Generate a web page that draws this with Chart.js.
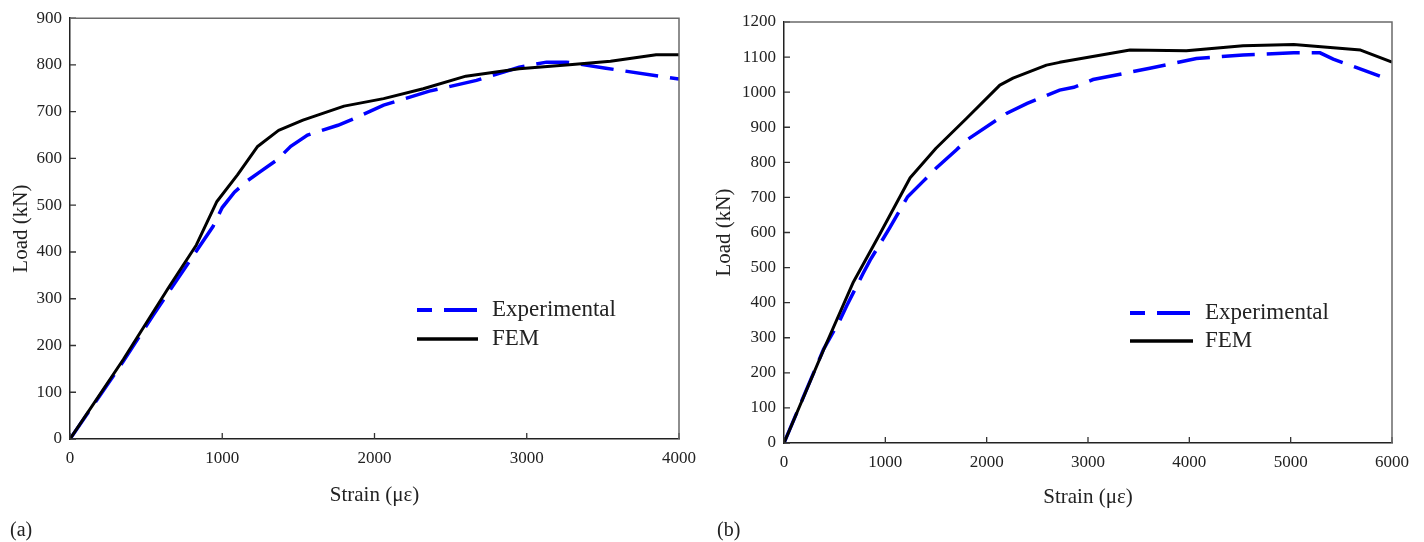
<!DOCTYPE html>
<html><head><meta charset="utf-8">
<script src="https://cdn.jsdelivr.net/npm/chart.js@4/dist/chart.umd.min.js"></script>
<style>
html,body{margin:0;padding:0;background:#fff;}
#wrap{position:relative;width:1424px;height:542px;overflow:hidden;}
.box{position:absolute;top:0;width:712px;height:542px;}
</style></head><body>
<div id="wrap">
<div class="box" style="left:0"><canvas id="ca" width="712" height="542"></canvas></div>
<div class="box" style="left:712px"><canvas id="cb" width="712" height="542"></canvas></div>
</div>
<script>
// ---- (a) data ----
const expA_strain = [0, 350, 547, 745, 940, 1000, 1080, 1160, 1250, 1360, 1450, 1560, 1760, 1850, 2060, 2360, 2670, 2950, 3130, 3260, 3520, 3870, 4000];
const expA_load   = [0, 166, 265, 361, 455, 495, 528, 551, 572, 597, 626, 650, 671, 683, 714, 744, 767, 795, 806, 806, 793, 776, 770];
const femA_strain = [0, 350, 650, 830, 965, 1100, 1230, 1370, 1530, 1800, 2060, 2320, 2600, 2950, 3300, 3550, 3850, 4000];
const femA_load   = [0, 170, 325, 415, 508, 565, 625, 660, 682, 712, 728, 749, 776, 792, 801, 808, 822, 822];
// ---- (b) data ----
const expB_strain = [0, 390, 550, 620, 780, 850, 1040, 1220, 1370, 1500, 1700, 1800, 2200, 2400, 2720, 2860, 3050, 3610, 4070, 4530, 5030, 5290, 5420, 5880];
const expB_load   = [0, 267, 349, 392, 483, 521, 612, 702, 745, 783, 835, 863, 940, 968, 1006, 1014, 1036, 1068, 1096, 1106, 1112, 1112, 1094, 1046];
const femB_strain = [0, 390, 685, 950, 1245, 1500, 1800, 2130, 2260, 2590, 2720, 3415, 3970, 4530, 5030, 5690, 6000];
const femB_load   = [0, 265, 459, 598, 756, 840, 925, 1020, 1040, 1077, 1085, 1120, 1118, 1132, 1136, 1120, 1086];
// ---- axes ----
const xTicksA = [0, 1000, 2000, 3000, 4000];
const yTicksA = [0, 100, 200, 300, 400, 500, 600, 700, 800, 900];
const xTicksB = [0, 1000, 2000, 3000, 4000, 5000, 6000];
const yTicksB = [0, 100, 200, 300, 400, 500, 600, 700, 800, 900, 1000, 1100, 1200];
const seriesNames = ['Experimental', 'FEM'];
const xTitle = 'Strain (\u03bc\u03b5)';
const yTitle = 'Load (kN)';
const panelLabels = ['(a)', '(b)'];

const SERIF = '"Liberation Serif", "Times New Roman", serif';
const pts = (xs, ys) => xs.map((x, i) => ({x: x, y: ys[i]}));

const decoPlugin = {
  id: 'deco',
  afterDatasetsDraw(chart, args, o) {
    const ctx = chart.ctx, a = chart.chartArea;
    const xs = chart.scales.x, ys = chart.scales.y;
    ctx.save();
    ctx.strokeStyle = '#333'; ctx.lineWidth = 1.3;
    ctx.beginPath();
    xs.ticks.forEach(t => { const p = xs.getPixelForValue(t.value); ctx.moveTo(p, a.bottom); ctx.lineTo(p, a.bottom - 6); });
    ys.ticks.forEach(t => { const p = ys.getPixelForValue(t.value); ctx.moveTo(a.left, p); ctx.lineTo(a.left + 6, p); });
    ctx.stroke();
    ctx.strokeStyle = '#6a6a6a'; ctx.lineWidth = 1.5;
    ctx.beginPath();
    ctx.moveTo(a.left, a.top); ctx.lineTo(a.right, a.top); ctx.lineTo(a.right, a.bottom);
    ctx.stroke();
    const L = o.legend;
    chart.data.datasets.forEach((d, i) => {
      const y = L.rows[i];
      ctx.beginPath();
      ctx.strokeStyle = d.borderColor; ctx.lineWidth = d.borderWidth + 0.5;
      ctx.setLineDash(d.borderDash || []);
      ctx.lineDashOffset = d.borderDash ? 18 : 0;
      ctx.moveTo(L.x0, y); ctx.lineTo(L.x1, y); ctx.stroke();
      ctx.setLineDash([]);
      ctx.fillStyle = '#222';
      ctx.font = '23px ' + SERIF;
      ctx.textBaseline = 'middle'; ctx.textAlign = 'left';
      ctx.fillText(d.label, L.tx, y);
    });
    ctx.font = '20px ' + SERIF;
    ctx.fillStyle = '#222';
    ctx.textBaseline = 'middle';
    ctx.fillText(o.panel.text, o.panel.x, o.panel.y);
    ctx.restore();
  }
};

function makeChart(id, cfg) {
  return new Chart(document.getElementById(id), {
    type: 'scatter',
    data: {
      datasets: [
        {label: seriesNames[0], data: pts(cfg.ex, cfg.ey), showLine: true, borderColor: '#0000ff', backgroundColor: '#0000ff',
         borderWidth: 3.5, borderDash: [33, 12], pointRadius: 0, tension: 0, order: 1, borderCapStyle: 'butt'},
        {label: seriesNames[1], data: pts(cfg.fx, cfg.fy), showLine: true, borderColor: '#000000', backgroundColor: '#000000',
         borderWidth: 3, pointRadius: 0, tension: 0, order: 0, borderJoinStyle: 'round'}
      ]
    },
    options: {
      responsive: false, animation: false, devicePixelRatio: 1,
      layout: {padding: {top: cfg.padTop, right: cfg.padRight, left: 0, bottom: 0}},
      plugins: {legend: {display: false}, tooltip: {enabled: false},
        deco: {legend: cfg.legend, panel: cfg.panel}},
      scales: {
        x: {type: 'linear', min: 0, max: cfg.xMax,
          afterBuildTicks: s => { s.ticks = cfg.xt.map(v => ({value: v})); },
          afterFit: s => { s.height = cfg.xH; },
          ticks: {font: {family: SERIF, size: 17}, color: '#222', padding: 9, maxRotation: 0, callback: v => String(v)},
          grid: {display: false, drawTicks: false},
          border: {display: true, color: '#222', width: 1.5},
          title: {display: true, text: xTitle, font: {family: SERIF, size: 21}, color: '#222', padding: {top: 0, bottom: cfg.xTitlePad}}
        },
        y: {type: 'linear', min: 0, max: cfg.yMax,
          afterBuildTicks: s => { s.ticks = cfg.yt.map(v => ({value: v})); },
          afterFit: s => { s.width = cfg.yW; },
          ticks: {font: {family: SERIF, size: 17}, color: '#222', padding: 8, callback: v => String(v)},
          grid: {display: false, drawTicks: false},
          border: {display: true, color: '#222', width: 1.5},
          title: {display: true, text: yTitle, font: {family: SERIF, size: 21}, color: '#222', padding: {top: cfg.yTitlePad, bottom: 0}}
        }
      }
    },
    plugins: [decoPlugin]
  });
}

makeChart('ca', {
  ex: expA_strain, ey: expA_load, fx: femA_strain, fy: femA_load,
  xMax: 4000, yMax: 900, xt: xTicksA, yt: yTicksA,
  padTop: 18, padRight: 33, yW: 70, xH: 103, xTitlePad: 34, yTitlePad: 9,
  legend: {x0: 417, x1: 478, tx: 492, rows: [310, 339]},
  panel: {text: panelLabels[0], x: 10, y: 531}
});
makeChart('cb', {
  ex: expB_strain, ey: expB_load, fx: femB_strain, fy: femB_load,
  xMax: 6000, yMax: 1200, xt: xTicksB, yt: yTicksB,
  padTop: 22, padRight: 32, yW: 72, xH: 99, xTitlePad: 32, yTitlePad: 0,
  legend: {x0: 418, x1: 481, tx: 493, rows: [313, 341]},
  panel: {text: panelLabels[1], x: 5, y: 531}
});
</script>
</body></html>
